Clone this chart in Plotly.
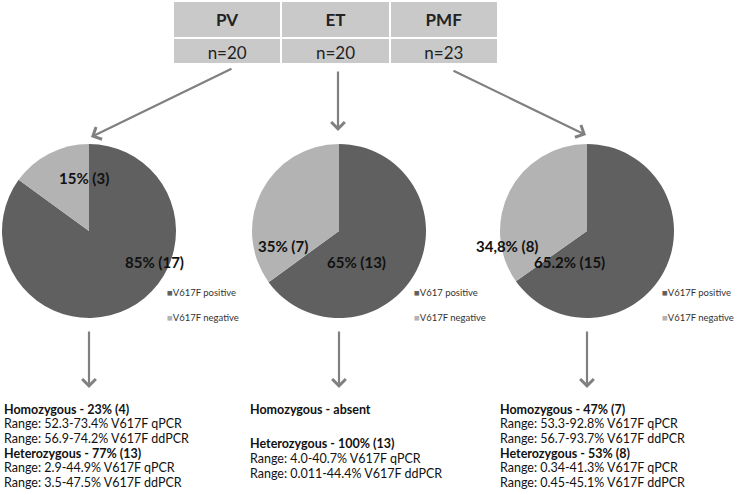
import plotly.graph_objects as go

W, H = 739, 495

GROUPS = ["PV", "ET", "PMF"]
GROUP_N = [20, 20, 23]

SLICE_LABELS = [
    ["V617F positive", "V617F negative"],
    ["V617 positive", "V617F negative"],
    ["V617F positive", "V617F negative"],
]
POSITIVE = [17, 13, 15]
NEGATIVE = [3, 7, 8]
PCT_TEXT = [["85%", "15%"], ["65%", "35%"], ["65.2%", "34,8%"]]

BLOCKS = [
    [("Homozygous - 23% (4)", True),
     ("Range: 52.3-73.4% V617F qPCR", False),
     ("Range: 56.9-74.2% V617F ddPCR", False),
     ("Heterozygous - 77% (13)", True),
     ("Range: 2.9-44.9% V617F qPCR", False),
     ("Range: 3.5-47.5% V617F ddPCR", False)],
    [("Homozygous - absent", True),
     ("", False),
     ("Heterozygous - 100% (13)", True),
     ("Range: 4.0-40.7% V617F qPCR", False),
     ("Range: 0.011-44.4% V617F ddPCR", False)],
    [("Homozygous - 47% (7)", True),
     ("Range: 53.3-92.8% V617F qPCR", False),
     ("Range: 56.7-93.7% V617F ddPCR", False),
     ("Heterozygous - 53% (8)", True),
     ("Range: 0.34-41.3% V617F qPCR", False),
     ("Range: 0.45-45.1% V617F ddPCR", False)],
]

DARK = "#606060"
LIGHT = "#B3B3B3"
ARROW = "#808080"
TABLE_GRAY = "#C9C9C9"
FONT = "Lato, sans-serif"

# pixel layout of the three columns
PIE_CX = [89, 339, 587]
PIE_CY, PIE_R = 231, 87
LEGEND_X = [165, 412, 660]
TEXT_X = [2, 248, 498]
LABEL_POS = [[(123, 262), (57, 178)], [(356, 262), (283, 246)], [(607, 262), (540, 246)]]
ARROW_TAIL = [(233, 68), (338, 70), (452, 70)]
ARROW_HEAD = [(91, 137), (338, 131), (586, 135)]


def xp(px):
    return px / W


def yp(py):
    return 1 - py / H


fig = go.Figure()

fig.add_trace(go.Table(
    domain=dict(x=[xp(173), xp(498)], y=[yp(64), yp(1)]),
    columnwidth=[1, 1, 1],
    header=dict(
        values=[f"<b>{g}</b>" for g in GROUPS],
        fill_color=TABLE_GRAY, line=dict(color="white", width=2),
        font=dict(family=FONT, size=17, color="#222222"),
        align="center", height=31,
    ),
    cells=dict(
        values=[[f"n={n}"] for n in GROUP_N],
        fill_color=TABLE_GRAY, line=dict(color="white", width=2),
        font=dict(family=FONT, size=17, color="#222222"),
        align="center", height=30,
    ),
))

annotations = []
for i in range(3):
    cx = PIE_CX[i]
    fig.add_trace(go.Pie(
        labels=SLICE_LABELS[i],
        values=[POSITIVE[i], NEGATIVE[i]],
        domain=dict(x=[xp(cx - PIE_R), xp(cx + PIE_R)],
                    y=[yp(PIE_CY + PIE_R), yp(PIE_CY - PIE_R)]),
        marker=dict(colors=[DARK, LIGHT], line=dict(width=0)),
        sort=False, direction="clockwise", rotation=0,
        textinfo="none", hoverinfo="label+value+percent",
        showlegend=False,
    ))

    counts = [POSITIVE[i], NEGATIVE[i]]
    for j in range(2):
        lx, ly = LABEL_POS[i][j]
        annotations.append(dict(
            x=xp(lx), y=yp(ly), xref="paper", yref="paper",
            text=f"<b>{PCT_TEXT[i][j]} ({counts[j]})</b>",
            showarrow=False, font=dict(family=FONT, size=15, color="#111111"),
        ))

    # legend
    for j, (lab, col) in enumerate(zip(SLICE_LABELS[i], [DARK, LIGHT])):
        annotations.append(dict(
            x=xp(LEGEND_X[i]), y=yp(292 + 25 * j), xref="paper", yref="paper",
            xanchor="left", yanchor="middle",
            text=f"<span style='color:{col}'>■</span>{lab}",
            showarrow=False, font=dict(family=FONT, size=9.5, color="#333333"),
        ))

    # arrows from table to pies
    tx, ty = ARROW_TAIL[i]
    hx, hy = ARROW_HEAD[i]
    annotations.append(dict(
        x=xp(hx), y=yp(hy), xref="paper", yref="paper",
        ax=tx - hx, ay=ty - hy, text="", showarrow=True,
        arrowhead=4, arrowsize=1.2, arrowwidth=2.2, arrowcolor=ARROW,
    ))
    # arrows from pies to text
    annotations.append(dict(
        x=xp(cx), y=yp(388), xref="paper", yref="paper",
        ax=0, ay=-58, text="", showarrow=True,
        arrowhead=4, arrowsize=1.2, arrowwidth=2.2, arrowcolor=ARROW,
    ))

    # text blocks
    y = 409
    for txt, bold in BLOCKS[i]:
        if txt:
            annotations.append(dict(
                x=xp(TEXT_X[i]), y=yp(y), xref="paper", yref="paper",
                xanchor="left", yanchor="middle",
                text=f"<b>{txt}</b>" if bold else txt,
                showarrow=False, font=dict(family=FONT, size=12.5, color="#111111"),
            ))
            y += 14.7
        else:
            y += 20

fig.update_layout(
    width=W, height=H,
    margin=dict(l=0, r=0, t=0, b=0),
    paper_bgcolor="white", plot_bgcolor="white",
    showlegend=False,
    annotations=annotations,
    font=dict(family=FONT),
)

# drop the browser's default body margin so the figure fills the window
fig.write_html("out.html", config={"displayModeBar": False},
               post_script="document.body.style.margin='0';")
